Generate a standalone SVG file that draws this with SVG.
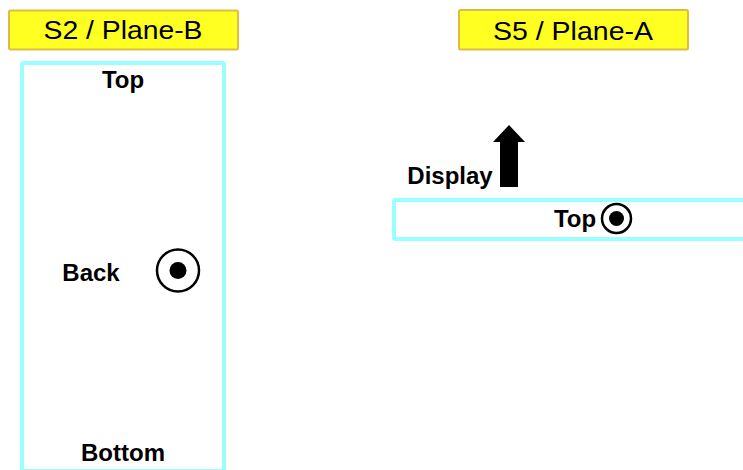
<svg xmlns="http://www.w3.org/2000/svg" width="743" height="470" viewBox="0 0 743 470">
<style>
.title{fill:#FFFF22;stroke:#DDBB44;stroke-width:2}
.plane{fill:#FFFFFF;stroke:#99FFFF;stroke-width:4}
.tt{font-family:"Liberation Sans",Arial,sans-serif;font-size:25px;fill:#000;text-anchor:middle}
.lb{font-family:"Liberation Sans",Arial,sans-serif;font-size:24px;font-weight:bold;fill:#000;text-anchor:middle}
.ring{fill:none;stroke:#000;stroke-width:2.5}
</style>
<rect width="743" height="470" fill="#FFFFFF"/>
<g id="s2-title">
<rect class="title" x="9" y="10.5" width="229" height="39" rx="1.5"/>
<text class="tt" x="123" y="39" textLength="159" lengthAdjust="spacingAndGlyphs">S2 / Plane-B</text>
</g>
<g id="s5-title">
<rect class="title" x="459" y="10" width="229" height="39.5" rx="1.5"/>
<text class="tt" x="573" y="39.5" textLength="160" lengthAdjust="spacingAndGlyphs">S5 / Plane-A</text>
</g>
<g id="plane-b">
<rect class="plane" x="22" y="63" width="202" height="408" rx="1.5"/>
<text class="lb" x="123" y="88">Top</text>
<text class="lb" x="91" y="281">Back</text>
<text class="lb" x="123" y="461">Bottom</text>
<circle class="ring" cx="178" cy="270.5" r="21"/>
<circle cx="178" cy="270.5" r="8.5" fill="#000"/>
</g>
<g id="plane-a">
<rect class="plane" x="394" y="200" width="360" height="39" rx="1.5"/>
<text class="lb" x="575" y="227">Top</text>
<circle class="ring" cx="616.5" cy="218.5" r="14.5"/>
<circle cx="616.5" cy="218.5" r="7.5" fill="#000"/>
</g>
<g id="display">
<text class="lb" x="450" y="184">Display</text>
<polygon points="509,125 525,142 518,142 518,187 500,187 500,142 493,142" fill="#000"/>
</g>
<g id="connectors"/>
</svg>
